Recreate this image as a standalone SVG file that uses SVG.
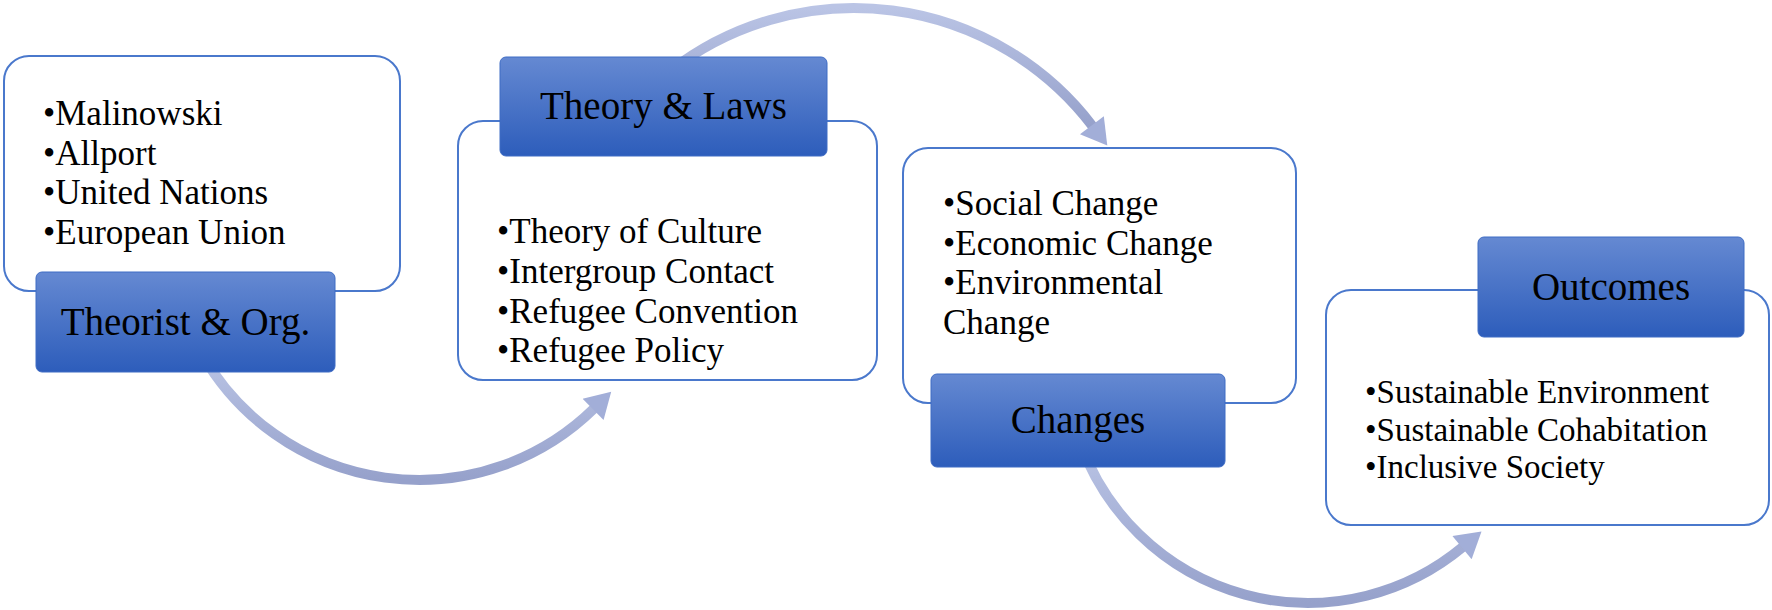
<svg xmlns="http://www.w3.org/2000/svg" width="1772" height="610" viewBox="0 0 1772 610">
  <style>
    .box { fill: #ffffff; stroke: #4A78CC; stroke-width: 2; }
    .label { fill: url(#labelGrad); stroke: #3F6CC4; stroke-width: 1; }
    .ltxt { font-family: "Liberation Serif", "Times New Roman", serif; font-size: 39px; fill: #000; text-anchor: middle; }
    .btxt { font-family: "Liberation Serif", "Times New Roman", serif; font-size: 35px; fill: #000; }
    .btxt4 { font-family: "Liberation Serif", "Times New Roman", serif; font-size: 33px; fill: #000; }
    .arc { fill: none; stroke: url(#arcGrad); stroke-width: 10; }
  </style>
  <defs>
    <linearGradient id="labelGrad" x1="0" y1="0" x2="0" y2="1">
      <stop offset="0" stop-color="#6589D2"/>
      <stop offset="1" stop-color="#2D5DBB"/>
    </linearGradient>
    <linearGradient id="arcGrad" x1="0" y1="0" x2="0" y2="1">
      <stop offset="0" stop-color="#BAC4E5"/>
      <stop offset="1" stop-color="#96A1CB"/>
    </linearGradient>
    <marker id="head" markerUnits="userSpaceOnUse" markerWidth="30" markerHeight="30" viewBox="0 0 22 26" refX="1" refY="13" orient="auto">
      <path d="M0,0 L22,13 L0,26 Z" fill="#A2AED8"/>
    </marker>
  </defs>

  <g id="connectors">
    <path class="arc" d="M202.5,355 A250,250 0 0 0 593.9,408.6" marker-end="url(#head)"/>
    <path class="arc" d="M669.3,71.6 A300,300 0 0 1 1092.6,126.2" marker-end="url(#head)"/>
    <path class="arc" d="M1080.6,443.8 A242,242 0 0 0 1462.9,546.9" marker-end="url(#head)"/>
  </g>

  <g id="node1">
    <rect class="box" x="4" y="56" width="396" height="235" rx="25"/>
    <text class="btxt" x="43" y="125">•Malinowski</text>
    <text class="btxt" x="43" y="164.5">•Allport</text>
    <text class="btxt" x="43" y="204">•United Nations</text>
    <text class="btxt" x="43" y="243.5">•European Union</text>
    <rect class="label" x="36" y="272" width="299" height="100" rx="6"/>
    <text class="ltxt" x="185.5" y="335">Theorist &amp; Org.</text>
  </g>

  <g id="node2">
    <rect class="box" x="458" y="121" width="419" height="259" rx="25"/>
    <text class="btxt" x="497" y="243">•Theory of Culture</text>
    <text class="btxt" x="497" y="283">•Intergroup Contact</text>
    <text class="btxt" x="497" y="323">•Refugee Convention</text>
    <text class="btxt" x="497" y="362">•Refugee Policy</text>
    <rect class="label" x="500" y="57" width="327" height="99" rx="6"/>
    <text class="ltxt" x="663.5" y="119">Theory &amp; Laws</text>
  </g>

  <g id="node3">
    <rect class="box" x="903" y="148" width="393" height="255" rx="25"/>
    <text class="btxt" x="943" y="215">•Social Change</text>
    <text class="btxt" x="943" y="254.5">•Economic Change</text>
    <text class="btxt" x="943" y="294">•Environmental</text>
    <text class="btxt" x="943" y="333.5">Change</text>
    <rect class="label" x="931" y="374" width="294" height="93" rx="6"/>
    <text class="ltxt" x="1078" y="433">Changes</text>
  </g>

  <g id="node4">
    <rect class="box" x="1326" y="290" width="443" height="235" rx="25"/>
    <text class="btxt4" x="1365" y="403">•Sustainable Environment</text>
    <text class="btxt4" x="1365" y="441">•Sustainable Cohabitation</text>
    <text class="btxt4" x="1365" y="478">•Inclusive Society</text>
    <rect class="label" x="1478" y="237" width="266" height="100" rx="6"/>
    <text class="ltxt" x="1611" y="300">Outcomes</text>
  </g>
</svg>
